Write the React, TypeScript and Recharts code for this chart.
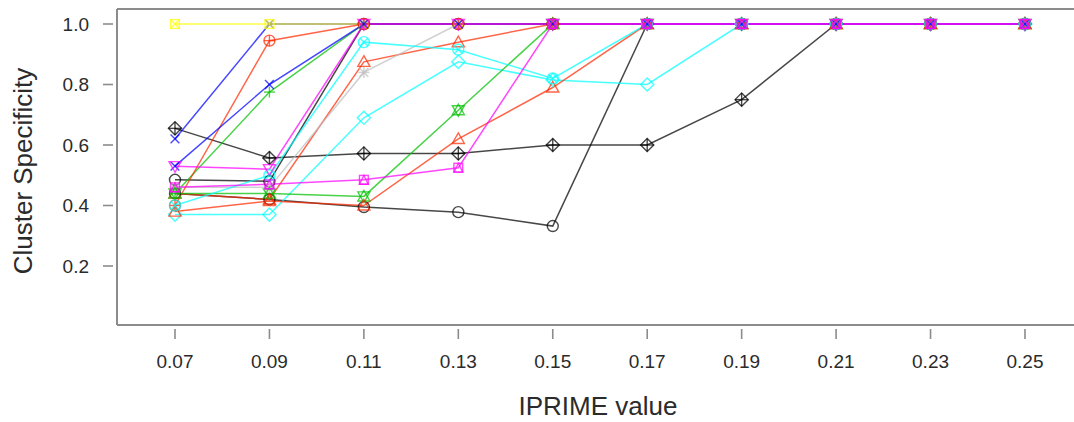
import React from 'react';
import { LineChart, Line, XAxis, YAxis, ReferenceLine } from 'recharts';

const xValues = [0.07, 0.09, 0.11, 0.13, 0.15, 0.17, 0.19, 0.21, 0.23, 0.25];
const xTicks = [0.07, 0.09, 0.11, 0.13, 0.15, 0.17, 0.19, 0.21, 0.23, 0.25];
const yTicks = [0.2, 0.4, 0.6, 0.8, 1.0];

const s01 = [0.44, 0.42, 0.395, 0.378, 0.332, 1, 1, 1, 1, 1];
const s02 = [0.44, 0.42, 0.875, 0.94, 1, 1, 1, 1, 1, 1];
const s03 = [0.44, 0.775, 1, 1, 1, 1, 1, 1, 1, 1];
const s04 = [0.62, 1, 1, 1, 1, 1, 1, 1, 1, 1];
const s05 = [0.37, 0.37, 0.69, 0.875, 0.815, 0.8, 1, 1, 1, 1];
const s06 = [0.53, 0.52, 1, 1, 1, 1, 1, 1, 1, 1];
const s07 = [1, 1, 1, 1, 1, 1, 1, 1, 1, 1];
const s08 = [0.46, 0.46, 0.84, 1, 1, 1, 1, 1, 1, 1];
const s09 = [0.655, 0.557, 0.572, 0.572, 0.6, 0.6, 0.75, 1, 1, 1];
const s10 = [0.4, 0.945, 1, 1, 1, 1, 1, 1, 1, 1];
const s11 = [0.44, 0.44, 0.43, 0.715, 1, 1, 1, 1, 1, 1];
const s15 = [0.485, 0.48, 1, 1, 1, 1, 1, 1, 1, 1];
const s16 = [0.38, 0.415, 0.4, 0.62, 0.79, 1, 1, 1, 1, 1];
const s13 = [0.4, 0.5, 0.94, 0.915, 0.82, 1, 1, 1, 1, 1];
const s12 = [0.53, 0.8, 1, 1, 1, 1, 1, 1, 1, 1];
const s14 = [0.46, 0.47, 0.485, 0.525, 1, 1, 1, 1, 1, 1];

const BLACK = '#000000';
const RED = '#FF2A00';
const GREEN = '#00C000';
const BLUE = '#0000FF';
const CYAN = '#00FFFF';
const MAGENTA = '#FF00FF';
const YELLOW = '#FFFF00';
const GRAY = '#BEBEBE';

const seriesDefs = [
  { key: 's01', values: s01, color: BLACK, shape: 'circle' },
  { key: 's15', values: s15, color: BLACK, shape: 'circle' },
  { key: 's09', values: s09, color: BLACK, shape: 'diamondPlus' },
  { key: 's02', values: s02, color: RED, shape: 'triUp' },
  { key: 's03', values: s03, color: GREEN, shape: 'plus' },
  { key: 's04', values: s04, color: BLUE, shape: 'cross' },
  { key: 's05', values: s05, color: CYAN, shape: 'diamond' },
  { key: 's07', values: s07, color: YELLOW, shape: 'squareX' },
  { key: 's08', values: s08, color: GRAY, shape: 'asterisk' },
  { key: 's10', values: s10, color: RED, shape: 'circlePlus' },
  { key: 's11', values: s11, color: GREEN, shape: 'star' },
  { key: 's16', values: s16, color: RED, shape: 'triUp' },
  { key: 's13', values: s13, color: CYAN, shape: 'circleX' },
  { key: 's12', values: s12, color: BLUE, shape: 'cross' },
  { key: 's14', values: s14, color: MAGENTA, shape: 'squareTri' },
  { key: 's06', values: s06, color: MAGENTA, shape: 'triDown' },
];

const data = xValues.map((x, i) => {
  const row: any = { x };
  seriesDefs.forEach((s) => {
    row[s.key] = s.values[i];
  });
  return row;
});

const X_MIN = 0.05772;
const X_MAX = 0.26271;
const Y_MIN = 0.00496;
const Y_MAX = 1.0496;

const OPACITY = 0.72;
const R = 5.5;

function Marker({ cx, cy, shape, color }: any) {
  if (cx == null || cy == null) return null;
  const common = { fill: 'none', stroke: color, strokeWidth: 1.4, strokeOpacity: OPACITY };
  const r = R;
  const tri = (dir: number) => {
    const h = r * 1.1;
    return `${cx},${cy - dir * h} ${cx - h},${cy + dir * h * 0.75} ${cx + h},${cy + dir * h * 0.75}`;
  };
  const plus = (
    <>
      <line x1={cx - r} x2={cx + r} y1={cy} y2={cy} {...common} />
      <line x1={cx} x2={cx} y1={cy - r} y2={cy + r} {...common} />
    </>
  );
  const k = r * 0.8;
  const cross = (
    <>
      <line x1={cx - k} x2={cx + k} y1={cy - k} y2={cy + k} {...common} />
      <line x1={cx - k} x2={cx + k} y1={cy + k} y2={cy - k} {...common} />
    </>
  );
  const diamond = <polygon points={`${cx},${cy - r * 1.2} ${cx + r * 1.2},${cy} ${cx},${cy + r * 1.2} ${cx - r * 1.2},${cy}`} {...common} />;
  const square = <rect x={cx - k} y={cy - k} width={2 * k} height={2 * k} {...common} />;
  const circle = <circle cx={cx} cy={cy} r={r} {...common} />;
  switch (shape) {
    case 'circle':
      return circle;
    case 'triUp':
      return <polygon points={tri(1)} {...common} />;
    case 'triDown':
      return <polygon points={tri(-1)} {...common} />;
    case 'plus':
      return <g>{plus}</g>;
    case 'cross':
      return <g>{cross}</g>;
    case 'diamond':
      return diamond;
    case 'squareX':
      return <g>{square}{cross}</g>;
    case 'asterisk':
      return <g>{plus}{cross}</g>;
    case 'diamondPlus':
      return <g>{diamond}<line x1={cx - r * 1.2} x2={cx + r * 1.2} y1={cy} y2={cy} {...common} /><line x1={cx} x2={cx} y1={cy - r * 1.2} y2={cy + r * 1.2} {...common} /></g>;
    case 'circlePlus':
      return <g>{circle}{plus}</g>;
    case 'circleX':
      return <g>{circle}<line x1={cx - r * 0.7} x2={cx + r * 0.7} y1={cy - r * 0.7} y2={cy + r * 0.7} {...common} /><line x1={cx - r * 0.7} x2={cx + r * 0.7} y1={cy + r * 0.7} y2={cy - r * 0.7} {...common} /></g>;
    case 'star':
      return <g><polygon points={tri(1)} {...common} /><polygon points={tri(-1)} {...common} /></g>;
    case 'squarePlus':
      return <g>{square}<line x1={cx - k} x2={cx + k} y1={cy} y2={cy} {...common} /><line x1={cx} x2={cx} y1={cy - k} y2={cy + k} {...common} /></g>;
    case 'squareTri':
      return <g>{square}<polygon points={`${cx},${cy - k} ${cx - k},${cy + k} ${cx + k},${cy + k}`} {...common} /></g>;
    default:
      return circle;
  }
}

const AXIS_COLOR = '#8c8c8c';
const TEXT_COLOR = '#2b2b2b';
const FONT = '"Liberation Sans", Arial, Helvetica, sans-serif';

const XTick = (props: any) => {
  const { x, y, payload } = props;
  return (
    <g>
      <line x1={x} x2={x} y1={y + 4} y2={y + 14} stroke={AXIS_COLOR} strokeWidth={1.6} />
      <text x={x} y={y + 43} textAnchor="middle" fontSize={19} fill={TEXT_COLOR} fontFamily={FONT}>
        {Number(payload.value).toFixed(2)}
      </text>
    </g>
  );
};

const YTick = (props: any) => {
  const { x, y, payload } = props;
  return (
    <g>
      <line x1={x - 14} x2={x - 4} y1={y} y2={y} stroke={AXIS_COLOR} strokeWidth={1.6} />
      <text x={x - 28} y={y} dy="0.35em" textAnchor="end" fontSize={19} fill={TEXT_COLOR} fontFamily={FONT}>
        {Number(payload.value).toFixed(1)}
      </text>
    </g>
  );
};

const XTitle = (props: any) => {
  const vb = props.viewBox || {};
  return (
    <text x={vb.x + vb.width / 2 - 3} y={vb.y + 90} textAnchor="middle" fontSize={26} fill={TEXT_COLOR} fontFamily={FONT}>
      IPRIME value
    </text>
  );
};

const YTitle = (props: any) => {
  const vb = props.viewBox || {};
  const cx = 32;
  const cy = vb.y + vb.height / 2 + 4;
  return (
    <text x={cx} y={cy} transform={`rotate(-90, ${cx}, ${cy})`} textAnchor="middle" fontSize={26} fill={TEXT_COLOR} fontFamily={FONT}>
      Cluster Specificity
    </text>
  );
};

export default function App() {
  return (
    <div style={{ position: 'absolute', left: 0, top: 0, width: 1074, height: 422, overflow: 'hidden', background: '#fff' }}>
      <LineChart width={1085} height={422} data={data} margin={{ top: 9, right: 0, bottom: 0, left: 0 }}>
        <XAxis
          dataKey="x"
          type="number"
          domain={[X_MIN, X_MAX]}
          ticks={xTicks}
          allowDataOverflow
          height={97}
          tickSize={0}
          tickMargin={0}
          tick={<XTick />}
          axisLine={{ stroke: AXIS_COLOR, strokeWidth: 2 }}
          tickLine={false}
          interval={0}
          label={{ content: <XTitle /> }}
        />
        <YAxis
          type="number"
          domain={[Y_MIN, Y_MAX]}
          ticks={yTicks}
          allowDataOverflow
          width={117}
          tickSize={0}
          tickMargin={0}
          tick={<YTick />}
          axisLine={{ stroke: AXIS_COLOR, strokeWidth: 2 }}
          tickLine={false}
          interval={0}
          label={{ content: <YTitle /> }}
        />
        <ReferenceLine y={Y_MAX} stroke={AXIS_COLOR} strokeWidth={2} ifOverflow="extendDomain" />
        {seriesDefs.map((s) => (
          <Line
            key={s.key}
            dataKey={s.key}
            type="linear"
            stroke={s.color}
            strokeOpacity={OPACITY}
            strokeWidth={1.5}
            isAnimationActive={false}
            activeDot={false}
            dot={(p: any) => <Marker key={`${s.key}-${p.index}`} cx={p.cx} cy={p.cy} shape={s.shape} color={s.color} />}
          />
        ))}
      </LineChart>
    </div>
  );
}
